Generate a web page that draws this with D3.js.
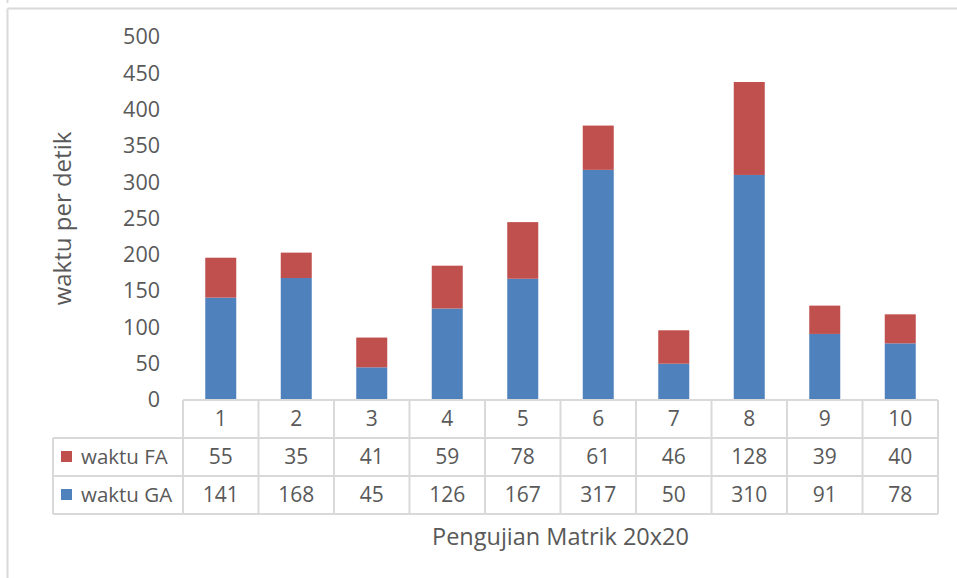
<!DOCTYPE html>
<html>
<head>
<meta charset="utf-8">
<script src="https://cdn.jsdelivr.net/npm/d3@7"></script>
<style>
  body { margin: 0; background: #fff; }
  text { font-family: "Open Sans", sans-serif; fill: #595959; }
</style>
</head>
<body>
<div id="chart"></div>
<script>
var categories = ["1","2","3","4","5","6","7","8","9","10"];
var waktuGA = [141,168,45,126,167,317,50,310,91,78];
var waktuFA = [55,35,41,59,78,61,46,128,39,40];
var yTicks = [0,50,100,150,200,250,300,350,400,450,500];
var seriesNames = ["waktu FA","waktu GA"];
var seriesColors = ["#C0504D","#4F81BD"];

var width = 957, height = 578;
var plotLeft = 183, plotRight = 938, plotTop = 37, plotBottom = 400;
var rowH = 38, legendLeft = 53;
var gridColor = "#D9D9D9";

var svg = d3.select("#chart").append("svg")
  .attr("width", width)
  .attr("height", height)

// chart frame
svg.append("path")
  .attr("d", "M7.5,0V3M7.5,8.5H" + (width + 5) + "M7.5,8.5V" + (height + 5))
  .attr("fill", "none")
  .attr("stroke", gridColor)
  .attr("stroke-width", 2)

var x = d3.scaleBand().domain(categories).range([plotLeft, plotRight]).paddingInner(0).paddingOuter(0);
var y = d3.scaleLinear().domain([0, 500]).range([plotBottom, plotTop]);

var barW = 31;

// stacked data
var rows = categories.map(function(c, i){ return {cat: c, ga: waktuGA[i], fa: waktuFA[i]} });
var stack = d3.stack().keys(["ga","fa"])(rows);
var stackColor = {ga: seriesColors[1], fa: seriesColors[0]};

svg.selectAll(".layer")
  .data(stack)
  .enter().append("g")
    .attr("class", "layer")
    .attr("fill", function(d){ return stackColor[d.key] })
  .selectAll("rect")
  .data(function(d){ return d })
  .enter().append("rect")
    .attr("x", function(d){ return x(d.data.cat) + x.bandwidth()/2 - barW/2 })
    .attr("width", barW)
    .attr("y", function(d){ return y(d[1]) })
    .attr("height", function(d){ return y(d[0]) - y(d[1]) })

// y axis labels
var yAxis = d3.axisLeft(y).tickValues(yTicks).tickSize(0).tickPadding(0);
var yg = svg.append("g").attr("transform", "translate(160,0)").call(yAxis);
yg.select(".domain").remove();
yg.selectAll("text")
  .attr("font-family", "Open Sans")
  .attr("font-size", 21.5)
  .attr("fill", "#595959")

// data table
var tbl = svg.append("g").attr("stroke", gridColor).attr("stroke-width", 2).attr("fill", "none");
var r0 = plotBottom, r1 = r0 + rowH, r2 = r1 + rowH, r3 = r2 + rowH;
tbl.append("line").attr("x1", plotLeft).attr("x2", plotRight).attr("y1", r0).attr("y2", r0);
[r1, r2, r3].forEach(function(ry){
  tbl.append("line").attr("x1", legendLeft).attr("x2", plotRight).attr("y1", ry).attr("y2", ry);
});
tbl.append("line").attr("x1", legendLeft).attr("x2", legendLeft).attr("y1", r1).attr("y2", r3);
categories.forEach(function(c){
  tbl.append("line").attr("x1", x(c)).attr("x2", x(c)).attr("y1", r0).attr("y2", r3);
});
tbl.append("line").attr("x1", plotRight).attr("x2", plotRight).attr("y1", r0).attr("y2", r3);

var rowValues = [categories, waktuFA, waktuGA];
var rowTops = [r0, r1, r2];
rowValues.forEach(function(vals, ri){
  svg.append("g").selectAll("text")
    .data(vals)
    .enter().append("text")
      .attr("x", function(d, i){ return x(categories[i]) + x.bandwidth()/2 })
      .attr("y", rowTops[ri] + rowH/2)
      .attr("dy", "0.35em")
      .attr("text-anchor", "middle")
      .attr("font-size", 21)
      .text(function(d){ return d })
});

// legend keys inside table
seriesNames.forEach(function(name, i){
  var ry = rowTops[i+1];
  svg.append("rect")
    .attr("x", 61)
    .attr("y", ry + rowH/2 - 6)
    .attr("width", 11)
    .attr("height", 11)
    .attr("fill", seriesColors[i])
  svg.append("text")
    .attr("x", 81)
    .attr("y", ry + rowH/2)
    .attr("dy", "0.35em")
    .attr("font-size", 20.5)
    .text(name)
});

// axis titles
svg.append("text")
  .attr("x", (plotLeft + plotRight)/2)
  .attr("y", 537)
  .attr("dy", "0.35em")
  .attr("text-anchor", "middle")
  .attr("font-size", 23.5)
  .text("Pengujian Matrik 20x20")

svg.append("text")
  .attr("transform", "translate(63," + ((plotTop + plotBottom)/2) + ")rotate(-90)")
  .attr("dy", "0.35em")
  .attr("text-anchor", "middle")
  .attr("font-size", 24)
  .text("waktu per detik")
</script>
</body>
</html>
